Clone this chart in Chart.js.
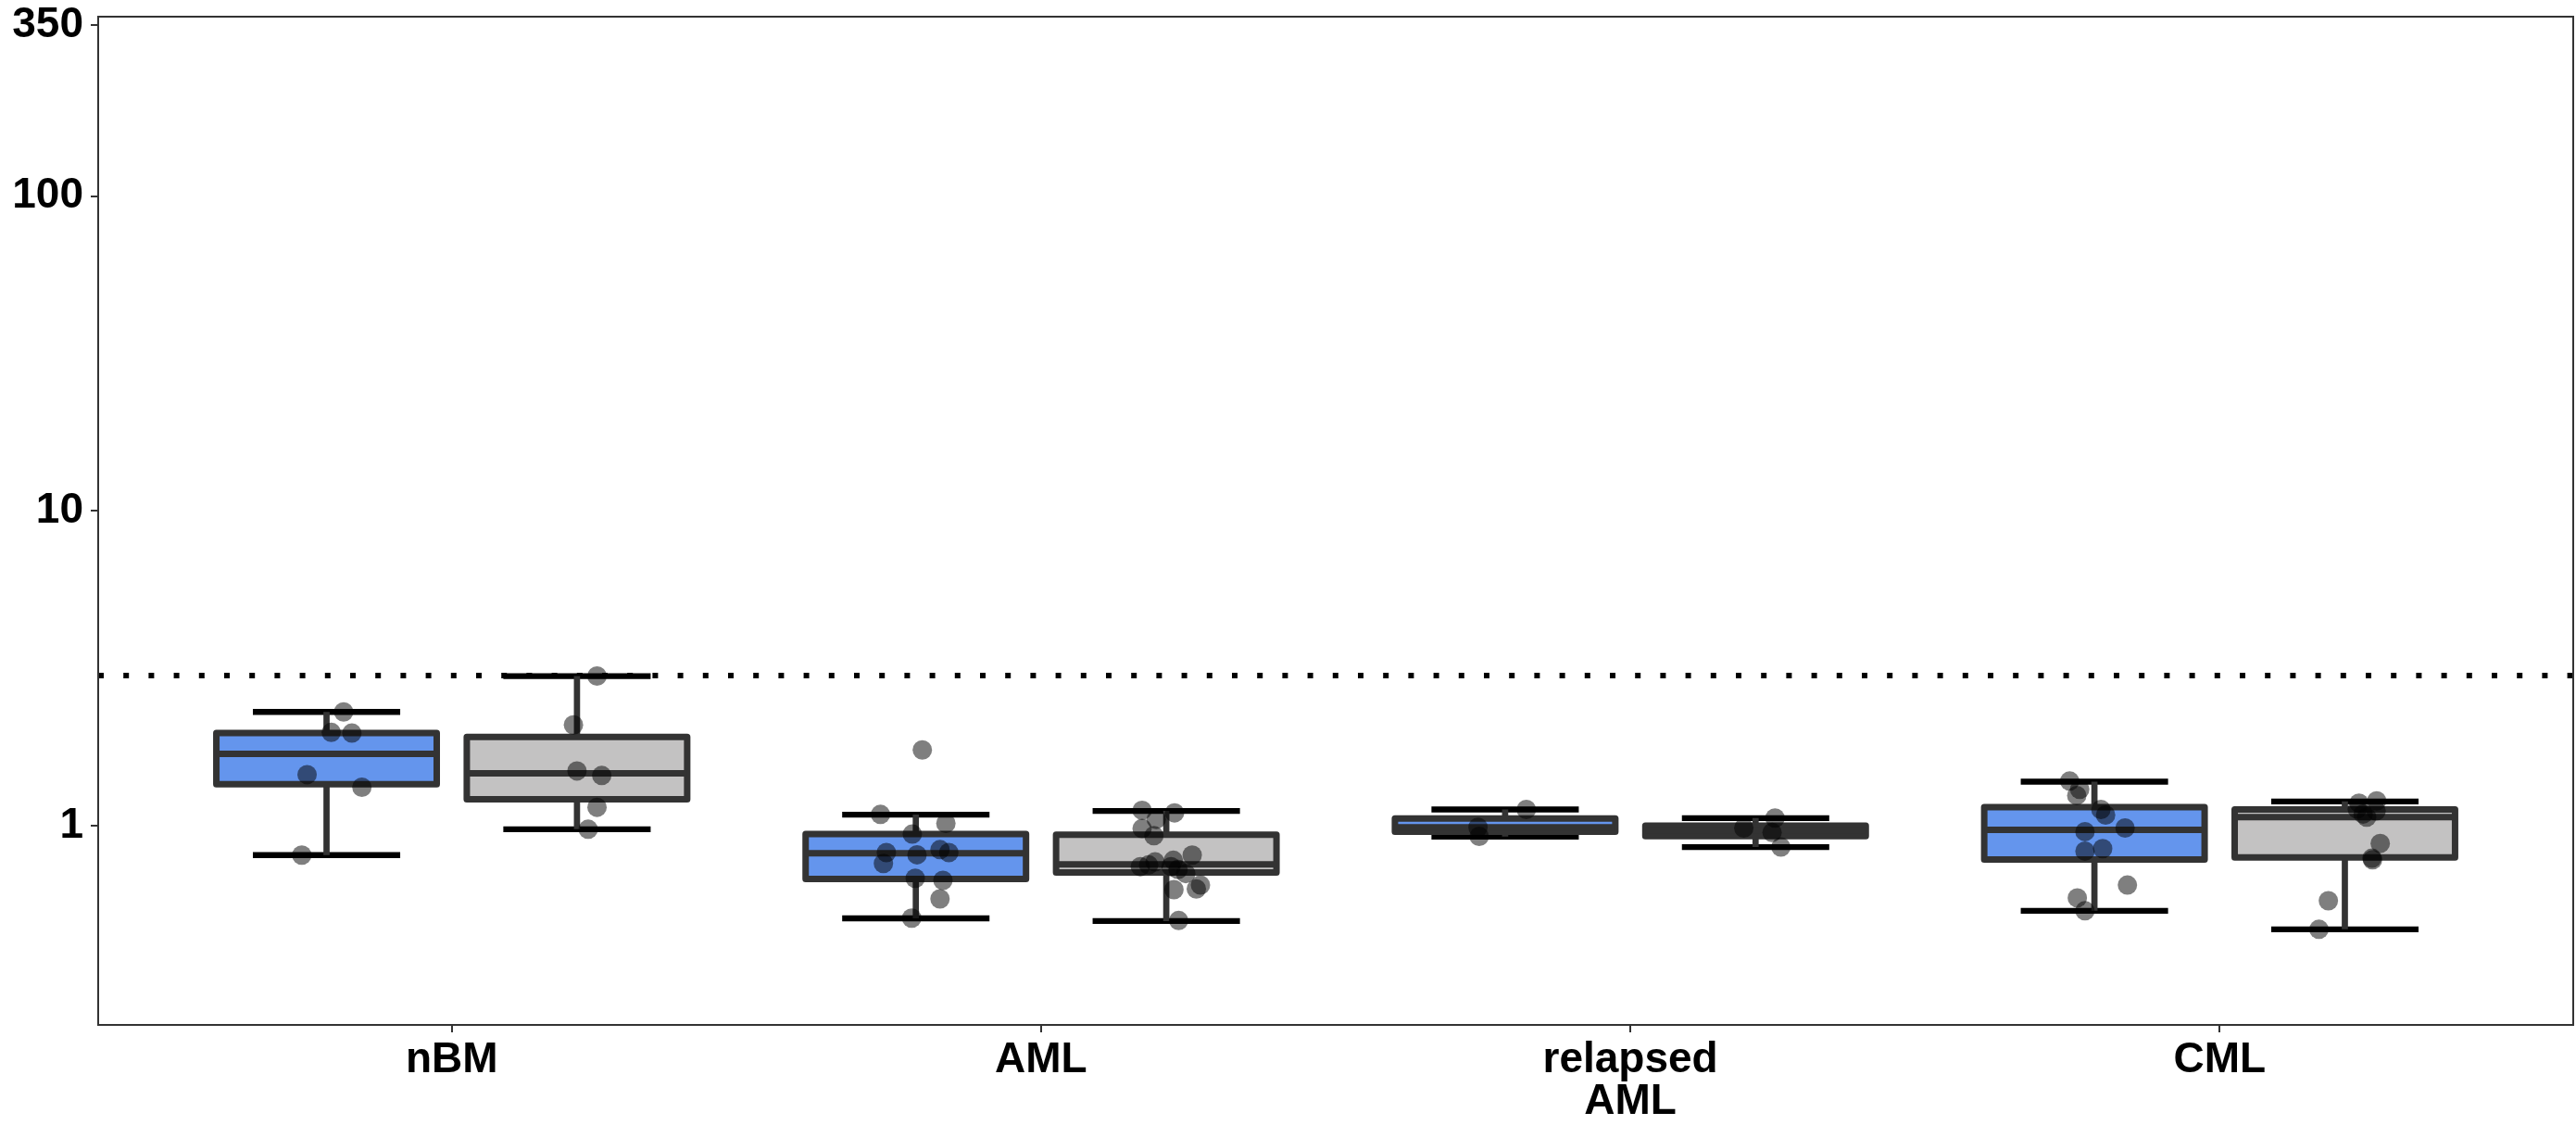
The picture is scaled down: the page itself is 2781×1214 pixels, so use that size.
<!DOCTYPE html>
<html>
<head>
<meta charset="utf-8">
<script src="https://cdn.jsdelivr.net/npm/chart.js@4.4.1/dist/chart.umd.min.js"></script>
<style>
    html, body { margin: 0; padding: 0; background: #ffffff; }
    #wrap { width: 2781px; height: 1214px; position: relative; }
</style>
</head>
<body>
<div id="wrap"><canvas id="foldChart"></canvas></div>
<script>
// Categories and axis ticks
const categories = ['nBM', 'AML', ['relapsed', 'AML'], 'CML'];
const yTickValues = [1, 10, 100, 350];
const thresholdValue = 3;

// Box statistics per category: [lower whisker, Q1, median, Q3, upper whisker]
const blueBoxStats = [
    [0.807, 1.356, 1.693, 1.970, 2.300],
    [0.508, 0.678, 0.818, 0.941, 1.085],
    [0.924, 0.957, 0.989, 1.055, 1.127],
    [0.537, 0.782, 0.971, 1.147, 1.381]
];
const greyBoxStats = [
    [0.975, 1.214, 1.468, 1.916, 2.990],
    [0.498, 0.711, 0.754, 0.937, 1.115],
    [0.856, 0.928, 0.968, 1.000, 1.058],
    [0.469, 0.794, 1.065, 1.127, 1.195]
];

// Individual samples (values) and their horizontal jitter (category units)
const bluePointValues = [
    [2.30, 1.98, 1.97, 1.454, 1.326, 0.807],
    [1.742, 1.087, 1.018, 0.941, 0.822, 0.759, 0.809, 0.840, 0.822, 0.681, 0.671, 0.586, 0.509],
    [1.127, 0.989, 0.926],
    [1.387, 1.305, 1.248, 1.127, 1.082, 0.958, 0.984, 0.831, 0.846, 0.648, 0.590, 0.537]
];
const bluePointJitter = [
    [0.029, 0.008, 0.043, -0.033, 0.060, -0.042],
    [0.011, -0.060, 0.051, -0.006, -0.050, -0.055, 0.002, 0.041, 0.056, -0.001, 0.046, 0.041, -0.007],
    [0.036, -0.046, -0.044],
    [-0.042, -0.025, -0.030, 0.011, 0.019, -0.016, 0.052, -0.016, 0.014, 0.056, -0.029, -0.016]
];
const greyPointValues = [
    [2.99, 2.092, 1.494, 1.445, 1.145, 0.975],
    [1.120, 1.099, 1.048, 0.980, 0.930, 0.807, 0.777, 0.768, 0.742, 0.751, 0.742, 0.726, 0.705, 0.648, 0.630, 0.627, 0.500],
    [1.058, 0.984, 0.952, 0.856],
    [1.180, 1.200, 1.130, 1.115, 1.090, 1.065, 0.879, 0.789, 0.780, 0.578, 0.469]
];
const greyPointJitter = [
    [0.034, -0.006, 0.000, 0.042, 0.034, 0.019],
    [-0.041, 0.014, -0.017, -0.041, -0.021, 0.044, 0.012, -0.019, -0.044, -0.030, 0.008, 0.020, 0.033, 0.058, 0.051, 0.013, 0.021],
    [0.033, -0.020, 0.028, 0.043],
    [0.024, 0.054, 0.021, 0.053, 0.031, 0.037, 0.060, 0.046, 0.047, -0.028, -0.044]
];

// Layout helpers (category units)
const dodge = 0.2125;
const boxHalf = 0.187;
const capHalf = 0.125;

const groups = [
    { stats: blueBoxStats, offset: -dodge, fill: '#6495ed' },
    { stats: greyBoxStats, offset: dodge, fill: '#c3c2c2' }
];

function buildPoints(values, jitter, offset) {
    const pts = [];
    values.forEach((list, i) => {
        list.forEach((v, k) => {
            pts.push({ x: i + offset + jitter[i][k], y: v });
        });
    });
    return pts;
}

// Draws threshold line, error bar caps, whiskers, boxes and medians
const boxPlotPlugin = {
    id: 'boxPlot',
    beforeDatasetsDraw(chart) {
        const { ctx, chartArea, scales } = chart;
        const xs = scales.x;
        const ys = scales.y;
        ctx.save();
        ctx.beginPath();
        ctx.rect(chartArea.left, chartArea.top, chartArea.right - chartArea.left, chartArea.bottom - chartArea.top);
        ctx.clip();

        // dotted threshold line
        const yt = ys.getPixelForValue(thresholdValue);
        ctx.beginPath();
        ctx.setLineDash([6, 21.2]);
        ctx.lineWidth = 6;
        ctx.lineCap = 'butt';
        ctx.strokeStyle = '#000000';
        ctx.moveTo(chartArea.left, yt);
        ctx.lineTo(chartArea.right, yt);
        ctx.stroke();
        ctx.setLineDash([]);

        groups.forEach(g => {
            g.stats.forEach((s, i) => {
                const c = i + g.offset;
                const xc = xs.getPixelForValue(c);
                const xl = xs.getPixelForValue(c - boxHalf);
                const xr = xs.getPixelForValue(c + boxHalf);
                const cl = xs.getPixelForValue(c - capHalf);
                const cr = xs.getPixelForValue(c + capHalf);
                const [lo, q1, med, q3, hi] = s.map(v => ys.getPixelForValue(v));

                // error bar caps
                ctx.strokeStyle = '#000000';
                ctx.lineWidth = 6.3;
                ctx.beginPath();
                ctx.moveTo(cl, hi); ctx.lineTo(cr, hi);
                ctx.moveTo(cl, lo); ctx.lineTo(cr, lo);
                ctx.stroke();

                // whiskers
                ctx.strokeStyle = '#333333';
                ctx.lineWidth = 6.7;
                ctx.beginPath();
                ctx.moveTo(xc, hi); ctx.lineTo(xc, q3);
                ctx.moveTo(xc, q1); ctx.lineTo(xc, lo);
                ctx.stroke();

                // box
                ctx.lineJoin = 'round';
                ctx.fillStyle = g.fill;
                ctx.fillRect(xl, q3, xr - xl, q1 - q3);
                ctx.lineWidth = 7;
                ctx.strokeRect(xl, q3, xr - xl, q1 - q3);

                // median
                ctx.beginPath();
                ctx.moveTo(xl, med); ctx.lineTo(xr, med);
                ctx.stroke();
            });
        });
        ctx.restore();
    },
    afterDatasetsDraw(chart) {
        const { ctx, chartArea } = chart;
        ctx.save();
        ctx.strokeStyle = '#333333';
        ctx.lineWidth = 2;
        ctx.strokeRect(chartArea.left, chartArea.top, chartArea.right - chartArea.left, chartArea.bottom - chartArea.top);
        ctx.restore();
    }
};

Chart.defaults.font.family = "'Liberation Sans', Arial, sans-serif";

const ctx = document.getElementById('foldChart').getContext('2d');
new Chart(ctx, {
    type: 'scatter',
    data: {
        datasets: [{
            label: 'blue',
            data: buildPoints(bluePointValues, bluePointJitter, -dodge),
            backgroundColor: 'rgba(0, 0, 0, 0.5)',
            borderWidth: 0,
            pointRadius: 10.5
        }, {
            label: 'grey',
            data: buildPoints(greyPointValues, greyPointJitter, dodge),
            backgroundColor: 'rgba(0, 0, 0, 0.5)',
            borderWidth: 0,
            pointRadius: 10.5
        }]
    },
    options: {
        responsive: true,
        maintainAspectRatio: false,
        animation: false,
        devicePixelRatio: 1,
        layout: {
            autoPadding: false,
            padding: { top: 18, right: 3, left: 0, bottom: 0 }
        },
        plugins: {
            legend: { display: false },
            tooltip: { enabled: false }
        },
        scales: {
            x: {
                type: 'linear',
                position: 'bottom',
                min: -0.6,
                max: 3.6,
                afterBuildTicks: (axis) => {
                    axis.ticks = categories.map((_, i) => ({ value: i }));
                },
                afterFit: (axis) => {
                    axis.height = 108;
                    axis.paddingLeft = 0;
                    axis.paddingRight = 0;
                },
                ticks: {
                    callback: (value) => categories[value],
                    autoSkip: false,
                    maxRotation: 0,
                    minRotation: 0,
                    padding: 8,
                    color: '#000000',
                    font: { size: 46, weight: 'bold', lineHeight: 0.98 }
                },
                grid: {
                    display: true,
                    drawOnChartArea: false,
                    drawTicks: true,
                    tickLength: 8,
                    color: '#333333',
                    lineWidth: 2
                },
                border: { display: false }
            },
            y: {
                type: 'logarithmic',
                min: 0.233,
                max: 372,
                afterBuildTicks: (axis) => {
                    axis.ticks = yTickValues.map(v => ({ value: v }));
                },
                afterFit: (axis) => {
                    axis.width = 106;
                    axis.paddingTop = 0;
                    axis.paddingBottom = 0;
                },
                ticks: {
                    callback: (value) => String(value),
                    autoSkip: false,
                    padding: 8,
                    color: '#000000',
                    font: { size: 46, weight: 'bold', lineHeight: 0.6 }
                },
                grid: {
                    display: true,
                    drawOnChartArea: false,
                    drawTicks: true,
                    tickLength: 8,
                    color: '#333333',
                    lineWidth: 2
                },
                border: { display: false }
            }
        }
    },
    plugins: [boxPlotPlugin]
});
</script>
</body>
</html>
